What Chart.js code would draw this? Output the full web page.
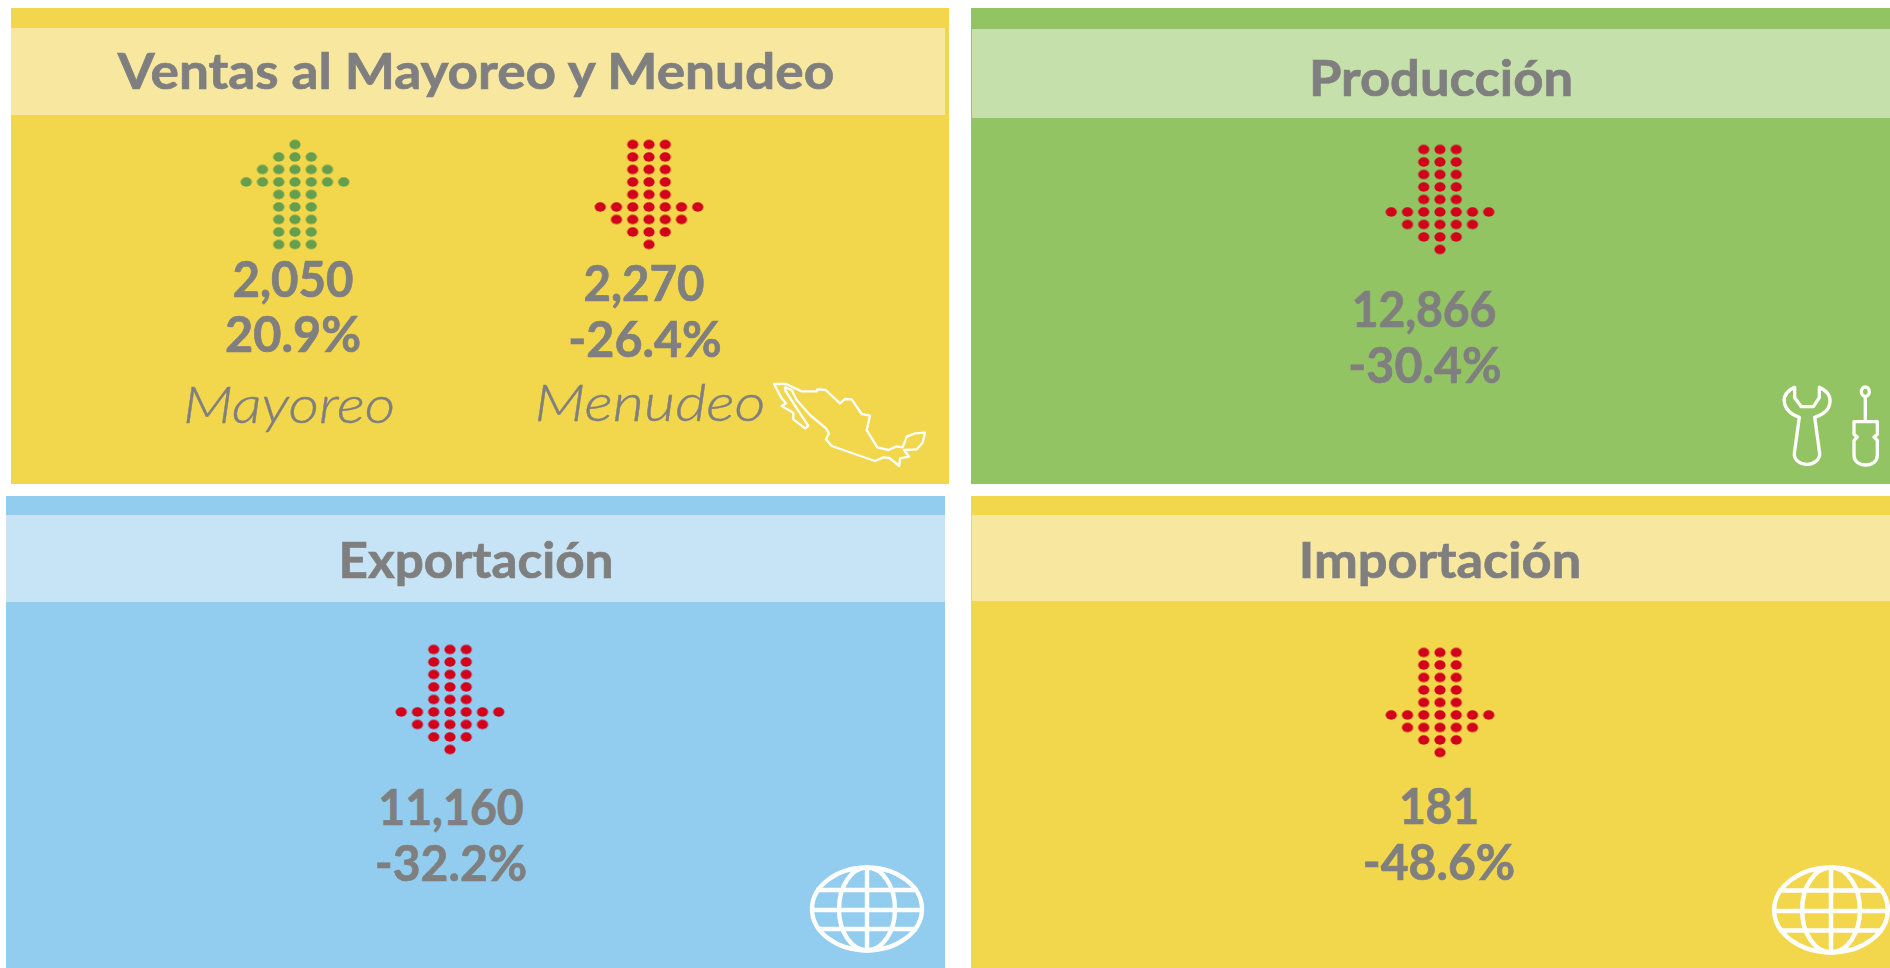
<!DOCTYPE html>
<html>
<head>
<meta charset="utf-8">
<script src="https://cdn.jsdelivr.net/npm/chart.js@4"></script>
<style>
html, body { margin: 0; background: #fff; width: 1890px; height: 968px; overflow: hidden; }
.box, .t, .arrow, svg.icon { position: absolute; }
.yellow { background: #f2d64b; }
.yellow2 { background: #f8e89f; }
.green { background: #92c464; }
.green2 { background: #c5e0ab; }
.blue { background: #92cdef; }
.blue2 { background: #c6e4f5; }
.t { font-family: Lato, sans-serif; font-weight: 700; color: #7f7f7f; font-size: 49px; line-height: 46px; white-space: nowrap; transform-origin: center; -webkit-text-stroke: 0.7px #7f7f7f; }
.name { font-weight: 300; font-style: italic; font-size: 51px; -webkit-text-stroke: 0.4px #7f7f7f; }
.arrow { width: 130px; height: 125px; }
svg.icon { fill: none; stroke: #fff; overflow: visible; }
</style>
</head>
<body>
<div class="box yellow" style="left:11px;top:8px;width:938px;height:476px"></div>
<div class="box yellow2" style="left:11px;top:28px;width:934px;height:87px"></div>
<div class="box green" style="left:971px;top:8px;width:919px;height:476px"></div>
<div class="box green2" style="left:972px;top:29px;width:918px;height:89px"></div>
<div class="box blue" style="left:6px;top:496px;width:939px;height:472px"></div>
<div class="box blue2" style="left:6px;top:515px;width:939px;height:87px"></div>
<div class="box yellow" style="left:971px;top:496px;width:919px;height:472px"></div>
<div class="box yellow2" style="left:972px;top:515px;width:918px;height:86px"></div>

<div class="t" id="title0" data-w="716" style="left:476px;top:47px"></div>
<div class="t" id="title1" data-w="264" style="left:1441px;top:54px"></div>
<div class="t" id="title2" data-w="275" style="left:476px;top:536px"></div>
<div class="t" id="title3" data-w="282" style="left:1440px;top:536px"></div>

<canvas class="arrow" id="arrow0" width="130" height="125" style="left:230px;top:132px"></canvas>
<canvas class="arrow" id="arrow1" width="130" height="125" style="left:584px;top:132px"></canvas>
<canvas class="arrow" id="arrow2" width="130" height="125" style="left:1375px;top:137px"></canvas>
<canvas class="arrow" id="arrow3" width="130" height="125" style="left:385px;top:637px"></canvas>
<canvas class="arrow" id="arrow4" width="130" height="125" style="left:1375px;top:640px"></canvas>

<div class="t" id="value0" data-w="121" style="left:293px;top:255px"></div>
<div class="t" id="change0" data-w="136" style="left:293px;top:310px"></div>
<div class="t" id="value1" data-w="121" style="left:644px;top:259px"></div>
<div class="t" id="change1" data-w="153" style="left:645px;top:315px"></div>
<div class="t" id="value2" data-w="145" style="left:1424px;top:285px"></div>
<div class="t" id="change2" data-w="153" style="left:1425px;top:341px"></div>
<div class="t" id="value3" data-w="146" style="left:451px;top:783px"></div>
<div class="t" id="change3" data-w="152" style="left:451px;top:839px"></div>
<div class="t" id="value4" data-w="80" style="left:1439px;top:782px"></div>
<div class="t" id="change4" data-w="152" style="left:1439px;top:838px"></div>

<div class="t name" id="name0" data-w="212" style="left:289px;top:381px"></div>
<div class="t name" id="name1" data-w="231" style="left:650px;top:379px"></div>

<svg class="icon" viewBox="0 0 600 330" style="left:760px;top:370px;width:200px;height:110px" stroke-width="7" stroke-linejoin="round">
  <path d="M42 42 L78 42 L125 64 L170 64 L172 58 L197 60 L240 100 L255 87 L275 88 L305 132 L330 137 L320 180 L352 232 L385 240 L410 229 L428 232 L440 200 L465 190 L495 188 L488 218 L470 238 L432 240 L447 260 L420 265 L418 288 L388 264 L370 262 L345 273 L215 228 L198 208 L207 190 L198 175 L150 135 L110 90 L95 60 L75 52 L75 60 L120 130 L145 168 L135 175 L100 148 L100 128 L65 108 L78 100 L65 85 Z"/>
</svg>
<svg class="icon" viewBox="0 0 360 300" style="left:1770px;top:375px;width:120px;height:100px" stroke-width="10" stroke-linejoin="round">
  <path d="M74 37 C50 48 40 62 43 82 C46 105 68 120 88 127 L73 235 C72 255 90 268 110 268 C130 268 150 255 149 235 L134 127 C155 120 178 105 180 82 C182 62 172 48 148 37 L148 68 L130 95 L94 95 L74 68 Z"/>
  <ellipse cx="286" cy="50" rx="12" ry="14"/>
  <path d="M286 64 L286 140 M252 140 L322 140 L322 178 L312 186 L322 196 L322 240 C322 260 306 270 287 270 C268 270 252 260 252 240 L252 196 L262 186 L252 178 Z"/>
</svg>
<svg class="icon" viewBox="0 0 120 90" style="left:807px;top:864px;width:120px;height:90px" stroke-width="4.4">
  <ellipse cx="60" cy="45" rx="55" ry="41.5"/><ellipse cx="60" cy="45" rx="28" ry="41.5"/>
  <path d="M60 3 L60 87 M9 26 L111 26 M4 46 L116 46 M10 65 L110 65"/>
</svg>
<svg class="icon" viewBox="0 0 120 90" preserveAspectRatio="none" style="left:1769px;top:864px;width:124px;height:92px" stroke-width="4.4">
  <ellipse cx="60" cy="45" rx="55" ry="41.5"/><ellipse cx="60" cy="45" rx="28" ry="41.5"/>
  <path d="M60 3 L60 87 M9 26 L111 26 M4 46 L116 46 M10 65 L110 65"/>
</svg>

<script>
// Panel data
var titles = ['Ventas al Mayoreo y Menudeo', 'Producción', 'Exportación', 'Importación'];
var names = ['Mayoreo', 'Menudeo'];
var values = [2050, 2270, 12866, 11160, 181];
var changes = [20.9, -26.4, -30.4, -32.2, -48.6];

// How far each row of dots reaches either side of the middle column
var upRows = [0, 1, 2, 3, 1, 1, 1, 1, 1];
var downRows = [1, 1, 1, 1, 1, 3, 2, 1, 0];

function setText(id, text) {
  var el = document.getElementById(id);
  el.textContent = text;
  // squeeze or stretch to the width the text has in the reference
  var k = el.dataset.w / el.offsetWidth;
  el.style.transform = 'translateX(-50%) scaleX(' + k + ')';
}

function dot(color) {
  var c = document.createElement('canvas');
  c.width = 14;
  c.height = 12;
  var g = c.getContext('2d');
  g.fillStyle = color;
  g.beginPath();
  g.ellipse(7, 6, 5.6, 4.7, 0, 0, Math.PI * 2);
  g.fill();
  return c;
}

function arrowPoints(rows) {
  var pts = [];
  rows.forEach(function (reach, y) {
    for (var x = -reach; x <= reach; x++) pts.push({ x: x, y: y });
  });
  return pts;
}

function drawArrow(id, change) {
  var ctx = document.getElementById(id).getContext('2d');
  return new Chart(ctx, {
    type: 'scatter',
    data: {
      datasets: [
        {
          data: arrowPoints(change < 0 ? downRows : upRows),
          pointStyle: dot(change < 0 ? '#d2001a' : '#659e4e')
        }
      ]
    },
    options: {
      responsive: false,
      animation: false,
      layout: { padding: 0, autoPadding: false },
      plugins: { legend: { display: false }, tooltip: { enabled: false } },
      scales: {
        x: { display: false, min: -4, max: 4 },
        y: { display: false, min: -1, max: 9, reverse: true }
      }
    }
  });
}

titles.forEach(function (t, i) { setText('title' + i, t); });
names.forEach(function (t, i) { setText('name' + i, t); });
values.forEach(function (v, i) {
  setText('value' + i, v.toLocaleString('en-US'));
  setText('change' + i, changes[i].toFixed(1) + '%');
  drawArrow('arrow' + i, changes[i]);
});
</script>
</body>
</html>
